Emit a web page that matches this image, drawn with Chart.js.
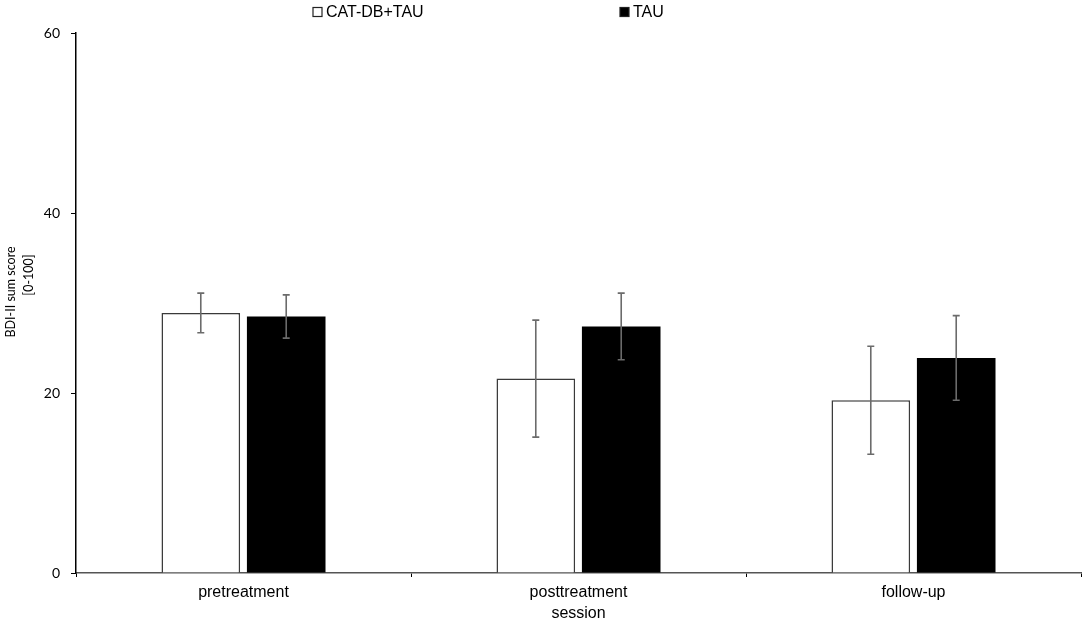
<!DOCTYPE html>
<html>
<head>
<meta charset="utf-8">
<script src="https://cdn.jsdelivr.net/npm/chart.js@4"></script>
<style>
  html, body { margin: 0; padding: 0; background: #fff; }
  #wrap { width: 1084px; height: 626px; position: relative; }
</style>
</head>
<body>
<div id="wrap"><canvas id="c"></canvas></div>
<script>
// ---- data ----
const categories = ['pretreatment', 'posttreatment', 'follow-up'];
const seriesNames = ['CAT-DB+TAU', 'TAU'];
const catdbMeans = [28.9, 21.6, 19.2];
const catdbErrors = [2.2, 6.5, 6.0];
const tauMeans = [28.5, 27.4, 23.9];
const tauErrors = [2.4, 3.7, 4.7];
const yTickValues = [0, 20, 40, 60];
const yTitleLines = ['BDI-II sum score', '[0-100]'];
const xTitle = 'session';

const errorsByDataset = [catdbErrors, tauErrors];

const errorBarPlugin = {
  id: 'errorBars',
  afterDatasetsDraw(chart) {
    const ctx = chart.ctx;
    const yScale = chart.scales.y;
    ctx.save();
    ctx.strokeStyle = '#6b6b6b';
    ctx.lineWidth = 1.6;
    chart.data.datasets.forEach((ds, di) => {
      const meta = chart.getDatasetMeta(di);
      meta.data.forEach((bar, i) => {
        const v = ds.data[i];
        const e = errorsByDataset[di][i];
        const x = bar.x;
        const yTop = yScale.getPixelForValue(v + e);
        const yBot = yScale.getPixelForValue(v - e);
        ctx.beginPath();
        ctx.moveTo(x, yTop); ctx.lineTo(x, yBot);
        ctx.moveTo(x - 3.5, yTop); ctx.lineTo(x + 3.5, yTop);
        ctx.moveTo(x - 3.5, yBot); ctx.lineTo(x + 3.5, yBot);
        ctx.stroke();
      });
    });
    ctx.restore();
  }
};

const customTextPlugin = {
  id: 'customText',
  afterDraw(chart) {
    const ctx = chart.ctx;
    ctx.save();
    // legend
    const legendX = [313, 620];
    const fills = ['#ffffff', '#000000'];
    ctx.font = '16px "Liberation Sans", Arial, sans-serif';
    ctx.textBaseline = 'middle';
    ctx.textAlign = 'left';
    seriesNames.forEach((name, i) => {
      const bx = legendX[i];
      ctx.fillStyle = fills[i];
      ctx.fillRect(bx, 7.5, 9, 9);
      ctx.strokeStyle = '#222';
      ctx.lineWidth = 1.2;
      ctx.strokeRect(bx, 7.5, 9, 9);
      ctx.fillStyle = '#000';
      ctx.fillText(name, bx + 13, 12.5);
    });
    // y title
    ctx.font = '12.5px Lato, "Open Sans", sans-serif';
    ctx.textAlign = 'center';
    const yTitlePos = [[11, 292], [29, 275]];
    yTitleLines.forEach((line, i) => {
      ctx.save();
      ctx.translate(yTitlePos[i][0], yTitlePos[i][1]);
      ctx.rotate(-Math.PI / 2);
      ctx.fillStyle = '#000';
      ctx.fillText(line, 0, 0);
      ctx.restore();
    });
    ctx.restore();
  }
};

new Chart(document.getElementById('c'), {
  type: 'bar',
  data: {
    labels: categories,
    datasets: [
      {
        label: seriesNames[0],
        data: catdbMeans,
        backgroundColor: '#ffffff',
        borderColor: '#3a3a3a',
        borderWidth: 1.5,
        barPercentage: 0.92,
        categoryPercentage: 0.51
      },
      {
        label: seriesNames[1],
        data: tauMeans,
        backgroundColor: '#000000',
        borderColor: '#000000',
        borderWidth: 0,
        barPercentage: 0.92,
        categoryPercentage: 0.51
      }
    ]
  },
  options: {
    responsive: true,
    maintainAspectRatio: false,
    animation: false,
    layout: { padding: { top: 33, right: 3, left: 0, bottom: 0 } },
    plugins: {
      legend: { display: false },
      tooltip: { enabled: false }
    },
    scales: {
      x: {
        grid: {
          display: true,
          drawOnChartArea: false,
          drawTicks: true,
          tickLength: 4,
          color: '#000',
          offset: true
        },
        border: { display: true, color: '#555', width: 1.5 },
        ticks: {
          color: '#000',
          font: { family: '"Liberation Sans", Arial, sans-serif', size: 16 },
          padding: 6
        },
        title: {
          display: true,
          text: xTitle,
          color: '#000',
          font: { family: '"Liberation Sans", Arial, sans-serif', size: 16 },
          padding: { top: 2, bottom: 3 }
        },
        afterFit(scale) { scale.height = 53; }
      },
      y: {
        min: 0,
        max: 60,
        afterBuildTicks(scale) {
          scale.ticks = yTickValues.map(v => ({ value: v }));
        },
        grid: {
          display: true,
          drawOnChartArea: false,
          drawTicks: true,
          tickLength: 5,
          color: '#000'
        },
        border: { display: true, color: '#000', width: 1.5 },
        ticks: {
          color: '#000',
          font: { family: 'Lato, "Open Sans", sans-serif', size: 14 },
          padding: 11
        },
        afterFit(scale) { scale.width = 76; }
      }
    }
  },
  plugins: [errorBarPlugin, customTextPlugin]
});
</script>
</body>
</html>
